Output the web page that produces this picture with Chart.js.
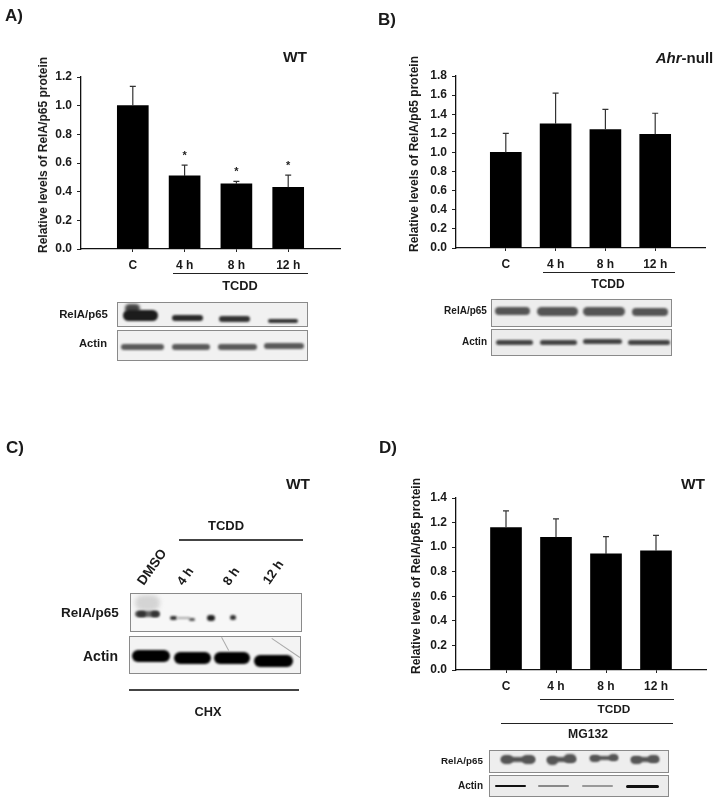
<!DOCTYPE html>
<html lang="en">
  <head>
    <meta charset="UTF-8" />
    <title>RelA/p65 protein levels</title>
    <script src="https://cdn.jsdelivr.net/npm/chart.js"></script>
    <style>
      html,
      body {
        margin: 0;
        background: #fff;
      }
      #page {
        position: relative;
        width: 718px;
        height: 805px;
        overflow: hidden;
        font-family: "Liberation Sans", Arial, sans-serif;
        font-weight: bold;
        color: #1a1a1a;
        filter: blur(0.35px);
      }
      canvas,
      .txt,
      .rule,
      .blot,
      .band {
        position: absolute;
      }
      .txt {
        white-space: nowrap;
        line-height: 1;
        transform: translate(-50%, -50%);
      }
      .rule {
        background: #222;
      }
      .blot {
        box-sizing: border-box;
        border: 1px solid #8a8a8a;
        background: #f1f1f1;
        overflow: hidden;
      }
      .band {
        border-radius: 999px;
      }
    </style>
  </head>
  <body>
    <div id="page">
      <canvas id="chartA" width="305" height="215" style="left: 45px; top: 60px"></canvas>
      <canvas id="chartB" width="296" height="215" style="left: 420px; top: 60px"></canvas>
      <canvas id="chartD" width="296" height="215" style="left: 420px; top: 480px"></canvas>
    </div>
    <script>
      const categories = ["", "C", "4 h", "8 h", "12 h", ""];
      const yTitle = "Relative levels of RelA/p65 protein";

      const aValues = [null, 1.0, 0.51, 0.455, 0.43, null];
      const aErrors = [null, 0.135, 0.075, 0.017, 0.085, null];
      const aStars = [null, null, "*", "*", "*", null];

      const bValues = [null, 1.0, 1.3, 1.24, 1.19, null];
      const bErrors = [null, 0.2, 0.32, 0.21, 0.22, null];

      const dValues = [null, 1.16, 1.08, 0.945, 0.97, null];
      const dErrors = [null, 0.135, 0.15, 0.14, 0.125, null];

      const page = document.getElementById("page");

      // draws the error whiskers and the significance stars off the chart scales
      const errorBars = {
        id: "errorBars",
        afterDatasetsDraw(chart) {
          const ds = chart.data.datasets[0];
          const meta = chart.getDatasetMeta(0);
          const y = chart.scales.y;
          const ctx = chart.ctx;
          ctx.save();
          ds.errors.forEach((err, i) => {
            if (err === null) return;
            const x = meta.data[i].x;
            const top = y.getPixelForValue(ds.data[i] + err);
            ctx.strokeStyle = "#333";
            ctx.lineWidth = 1.2;
            ctx.beginPath();
            ctx.moveTo(x, y.getPixelForValue(ds.data[i]));
            ctx.lineTo(x, top);
            ctx.moveTo(x - 3, top);
            ctx.lineTo(x + 3, top);
            ctx.stroke();
            if (ds.stars && ds.stars[i]) {
              ctx.fillStyle = "#222";
              ctx.font = "bold 11px 'Liberation Sans'";
              ctx.textAlign = "center";
              ctx.fillText(ds.stars[i], x, top - 6);
            }
          });
          ctx.restore();
        },
      };

      function makeChart(id, values, errors, stars, yMax, padTop, padRight, xHeight) {
        const tickFont = { family: "'Liberation Sans'", size: 12, weight: "bold" };
        return new Chart(document.getElementById(id), {
          type: "bar",
          data: {
            labels: categories,
            datasets: [
              {
                data: values,
                errors: errors,
                stars: stars,
                backgroundColor: "#000",
                barThickness: 31,
              },
            ],
          },
          options: {
            responsive: false,
            animation: false,
            layout: { padding: { top: padTop, right: padRight, left: 0, bottom: 0 } },
            plugins: { legend: { display: false }, tooltip: { enabled: false } },
            scales: {
              x: {
                offset: false,
                afterFit: (s) => (s.height = xHeight),
                border: { color: "#111", width: 1.3 },
                grid: {
                  offset: false,
                  drawOnChartArea: false,
                  tickLength: 3,
                  tickColor: (c) => (categories[c.index] ? "#222" : "transparent"),
                },
                ticks: {
                  autoSkip: false,
                  maxRotation: 0,
                  padding: 6,
                  color: "#1a1a1a",
                  font: tickFont,
                },
              },
              y: {
                min: 0,
                max: yMax,
                afterFit: (s) => (s.width = 36),
                border: { color: "#111", width: 1.3 },
                grid: { drawOnChartArea: false, tickLength: 4, tickColor: "#222" },
                ticks: {
                  stepSize: 0.2,
                  autoSkip: false,
                  padding: 5,
                  color: "#1a1a1a",
                  font: tickFont,
                  callback: (v) => v.toFixed(1),
                },
              },
            },
          },
          plugins: [errorBars],
        });
      }

      makeChart("chartA", aValues, aErrors, aStars, 1.2, 17, 10, 26);
      makeChart("chartB", bValues, bErrors, null, 1.8, 16, 11, 27);
      makeChart("chartD", dValues, dErrors, null, 1.4, 18, 10, 25);

      function txt(str, x, y, size, extra) {
        const el = document.createElement("div");
        el.className = "txt";
        el.innerHTML = str;
        el.style.left = x + "px";
        el.style.top = y + "px";
        el.style.fontSize = size + "px";
        if (extra) el.style.transform = "translate(-50%, -50%) " + extra;
        page.appendChild(el);
      }

      function rule(x1, x2, y, h, color) {
        const el = document.createElement("div");
        el.className = "rule";
        el.style.cssText = `left:${x1}px;top:${y}px;width:${x2 - x1}px;height:${h}px`;
        if (color) el.style.background = color;
        page.appendChild(el);
      }

      // thin scratch on the film, from one point to another
      function scratch(x1, y1, x2, y2) {
        const el = document.createElement("div");
        const len = Math.hypot(x2 - x1, y2 - y1);
        el.className = "rule";
        el.style.cssText =
          `left:${x1}px;top:${y1}px;width:${len}px;height:1px;background:#aaa;` +
          `transform-origin:0 0;transform:rotate(${Math.atan2(y2 - y1, x2 - x1)}rad)`;
        page.appendChild(el);
      }

      // x1, x2, cy, thickness, colour, blur - all in page pixels
      function blot(x1, x2, y1, y2, bands, bg) {
        const box = document.createElement("div");
        box.className = "blot";
        box.style.cssText = `left:${x1}px;top:${y1}px;width:${x2 - x1}px;height:${y2 - y1}px`;
        if (bg) box.style.background = bg;
        bands.forEach((b) => {
          const el = document.createElement("div");
          el.className = "band";
          el.style.cssText =
            `left:${b[0] - x1 - 1}px;top:${b[2] - b[3] / 2 - y1 - 1}px;` +
            `width:${b[1] - b[0]}px;height:${b[3]}px;background:${b[4]};` +
            `filter:blur(${b[5] === undefined ? 1 : b[5]}px)`;
          box.appendChild(el);
        });
        page.appendChild(box);
      }

      // panel A
      txt("A)", 14, 15, 17);
      txt("WT", 295, 57, 15.5);
      txt(yTitle, 43, 155, 12, "rotate(-90deg)");
      rule(173, 308, 273, 1);
      txt("TCDD", 240, 286, 12.8);
      txt("RelA/p65", 83.5, 315, 11.4);
      txt("Actin", 93, 344, 11.2);
      blot(117, 308, 302, 327, [
        [125, 140, 308, 9, "#444", 1.5],
        [123, 158, 315, 11, "#1c1c1c"],
        [172, 203, 318, 6, "#2a2a2a"],
        [219, 250, 319, 6, "#333"],
        [268, 298, 321, 4, "#333"],
      ]);
      blot(117, 308, 330, 361, [
        [121, 164, 347, 6, "#5a5a5a"],
        [172, 210, 347, 6, "#5a5a5a"],
        [218, 257, 347, 6, "#5a5a5a"],
        [264, 304, 346, 6, "#5a5a5a"],
      ]);

      // panel B
      txt("B)", 387, 19, 17);
      txt("<i>Ahr</i>-null", 684.5, 57, 15);
      txt(yTitle, 414, 153.5, 12, "rotate(-90deg)");
      rule(543, 675, 272, 1);
      txt("TCDD", 608, 284, 12);
      txt("RelA/p65", 465.5, 311, 10);
      txt("Actin", 474.5, 342, 10);
      blot(491, 672, 299, 327, [
        [495, 530, 311, 8, "#555"],
        [537, 578, 311, 9, "#555"],
        [583, 625, 311.5, 9, "#555"],
        [632, 668, 312, 8, "#555"],
      ], "#ededed");
      blot(491, 672, 329, 356, [
        [496, 533, 342, 5, "#444"],
        [540, 577, 342, 5, "#444"],
        [583, 622, 341.5, 5, "#444"],
        [628, 670, 342, 5, "#444"],
      ], "#ececec");

      // panel C
      txt("C)", 15, 447, 17);
      txt("WT", 298, 484, 15.5);
      txt("TCDD", 226, 525, 13);
      rule(179, 303, 539, 2, "#444");
      txt("DMSO", 152, 567, 13.5, "rotate(-55deg)");
      txt("4 h", 185, 576, 13, "rotate(-55deg)");
      txt("8 h", 231, 576, 13, "rotate(-55deg)");
      txt("12 h", 273, 572, 13, "rotate(-55deg)");
      txt("RelA/p65", 90, 613, 13.5);
      txt("Actin", 100.5, 656, 14);
      blot(130, 302, 593, 632, [
        [135, 160, 603, 16, "#d4d4d4", 2],
        [135, 160, 614, 6, "#666"],
        [137, 146, 614, 6, "#333"],
        [151, 159, 614, 6, "#333"],
        [170, 177, 618, 4, "#333"],
        [177, 190, 618, 1.5, "#aaa"],
        [189, 195, 619, 3, "#555"],
        [207, 215, 618, 6, "#222"],
        [230, 236, 617, 5, "#333"],
      ], "#f7f7f7");
      blot(129, 301, 636, 674, [
        [132, 170, 656, 12, "#000"],
        [174, 211, 658, 12, "#000"],
        [214, 250, 658, 12, "#000"],
        [254, 293, 661, 12, "#000"],
      ], "#f3f3f3");
      scratch(222, 637, 229, 650);
      scratch(272, 638, 300, 657);
      rule(129, 299, 689, 2, "#444");
      txt("CHX", 208, 712, 12.8);

      // panel D
      txt("D)", 388, 447, 17);
      txt("WT", 693, 484, 15.5);
      txt(yTitle, 416, 575.5, 12, "rotate(-90deg)");
      rule(540, 674, 699, 1);
      txt("TCDD", 614, 710, 11.8);
      rule(501, 673, 723, 1);
      txt("MG132", 588, 734, 12.2);
      txt("RelA/p65", 462, 761, 9.8);
      txt("Actin", 470.5, 786, 10);
      blot(489, 669, 750, 773, [
        [501, 535, 759, 5, "#555"],
        [501, 513, 759, 9, "#555"],
        [522, 535, 759, 9, "#555"],
        [547, 576, 759, 5, "#555"],
        [547, 558, 760, 9, "#555"],
        [564, 576, 758, 9, "#555"],
        [590, 618, 758, 4, "#555"],
        [590, 600, 758, 7, "#555"],
        [609, 618, 757, 7, "#555"],
        [631, 659, 759, 5, "#555"],
        [631, 642, 760, 8, "#555"],
        [648, 659, 759, 8, "#555"],
      ], "#eeeeee");
      blot(489, 669, 775, 797, [
        [495, 526, 786, 2, "#111", 0.5],
        [538, 569, 786, 2, "#888", 0.6],
        [582, 613, 786, 2, "#999", 0.6],
        [626, 659, 786, 3, "#111", 0.5],
      ], "#ececec");
    </script>
  </body>
</html>
